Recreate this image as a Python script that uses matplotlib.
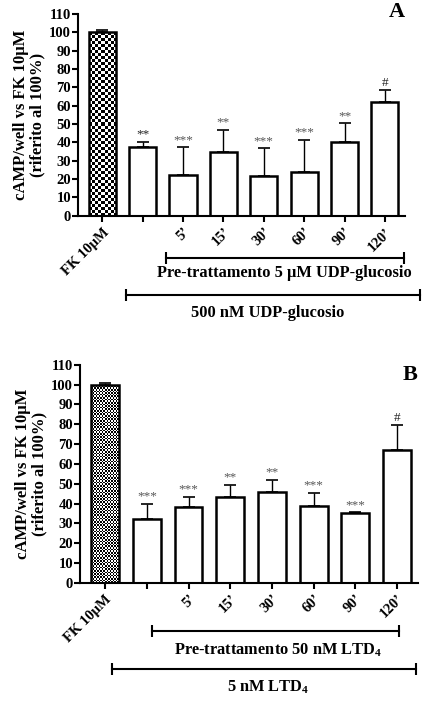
import matplotlib.pyplot as plt
import numpy as np

plt.rcParams['font.family'] = ['Liberation Serif', 'DejaVu Serif']
plt.rcParams['font.weight'] = 'bold'
plt.rcParams['mathtext.fontset'] = 'custom'
plt.rcParams['mathtext.rm'] = 'Liberation Serif:bold'
plt.rcParams['mathtext.bf'] = 'Liberation Serif:bold'

labels = ["FK 10\u03bcM", "", "5\u2019", "15\u2019", "30\u2019", "60\u2019", "90\u2019", "120\u2019"]

a_vals = [100, 37.5, 22, 35, 21.5, 24, 40, 62]
a_err = [1.2, 3, 15.5, 12, 15.5, 17.5, 10.5, 6.5]
a_sig = ["", "**", "***", "**", "***", "***", "**", "#"]

b_vals = [100, 32, 38.5, 43.5, 46, 39, 35, 67]
b_err = [0.8, 8, 5, 6, 6, 6.5, 0.7, 12.5]
b_sig = ["", "***", "***", "**", "**", "***", "***", "#"]


def checker(ax, patch, nx):
    # fill the FK bar with a checkerboard clipped to the bar
    x0, y0 = patch.get_x(), patch.get_y()
    w, h = patch.get_width(), patch.get_height()
    ny = int(nx * 6.8)
    img = (np.add.outer(np.arange(ny), np.arange(nx)) % 2).astype(float)
    im = ax.imshow(img, cmap='gray', extent=(x0, x0 + w, y0, y0 + h),
                   aspect='auto', interpolation='nearest', zorder=1.5)
    im.set_clip_path(patch)


def panel(ax, vals, err, sig, nx, letter, ly, lines, texts, first_dark):
    x = np.arange(len(vals))
    bars = ax.bar(x, vals, width=0.67, color='white', edgecolor='black',
                  linewidth=1.8, zorder=2)
    checker(ax, bars[0], nx)
    bars[0].set_facecolor('none')
    ax.errorbar(x, vals, yerr=[np.zeros(len(err)), err], fmt='none',
                ecolor='black', elinewidth=1.0, capsize=4.5, capthick=1.2, zorder=1)
    for i, s in enumerate(sig):
        if s:
            col = '#555555'
            if s == '#' or (i == 1 and first_dark):
                col = '#222222'
            ax.text(x[i], vals[i] + err[i] + 0.5, s, ha='center', va='bottom',
                    fontsize=9.5, color=col, fontweight='normal')
    ax.set_ylim(0, 110)
    ax.set_xlim(-0.6, 7.5)
    ax.set_yticks(range(0, 111, 10))
    ax.set_xticks(x)
    ax.set_xticklabels(labels, rotation=45, ha='right', rotation_mode='anchor',
                       fontsize=10.5)
    ax.tick_params(axis='y', labelsize=10.5, width=1.5, length=4, pad=1)
    ax.tick_params(axis='x', width=1.5, length=4, pad=3)
    for s in ['top', 'right']:
        ax.spines[s].set_visible(False)
    for s in ['left', 'bottom']:
        ax.spines[s].set_linewidth(1.5)
    ax.set_ylabel("cAMP/well vs FK 10\u03bcM\n(riferito al 100%)",
                  fontsize=12, fontweight='bold', labelpad=3, linespacing=1.0)
    ax.text(1.0, ly, letter, transform=ax.transAxes, ha='right', va='top',
            fontsize=16, fontweight='bold')
    for (x0, x1, yy) in lines:
        ax.plot([x0, x1], [yy, yy], color='black', lw=1.5, marker='|', ms=9,
                mew=1.5, transform=ax.get_xaxis_transform(), clip_on=False)
    for (xc, yy, t) in texts:
        ax.text(xc, yy, t, transform=ax.get_xaxis_transform(), ha='center',
                va='center', fontsize=11.8, fontweight='bold')


fig = plt.figure(figsize=(4.26, 7.03), dpi=100)
ax1 = fig.add_axes([0.183, 0.693, 0.768, 0.287])
ax2 = fig.add_axes([0.188, 0.171, 0.793, 0.310])

panel(ax1, a_vals, a_err, a_sig, 9, "A", 1.06,
      [(1.59, 7.47, -0.208), (0.6, 7.87, -0.391)],
      [(4.5, -0.282, "Pre-trattamento 5 \u00b5M UDP-glucosio"),
       (4.1, -0.48, "500 nM UDP-glucosio")], True)
panel(ax2, b_vals, b_err, b_sig, 18, "B", 1.0,
      [(1.12, 7.05, -0.22), (0.17, 7.45, -0.394)],
      [(4.15, -0.307, "Pre-trattamento 50 nM LTD$_{4}$"),
       (3.9, -0.481, "5 nM LTD$_{4}$")], False)

fig.savefig("out.png", dpi=100)
